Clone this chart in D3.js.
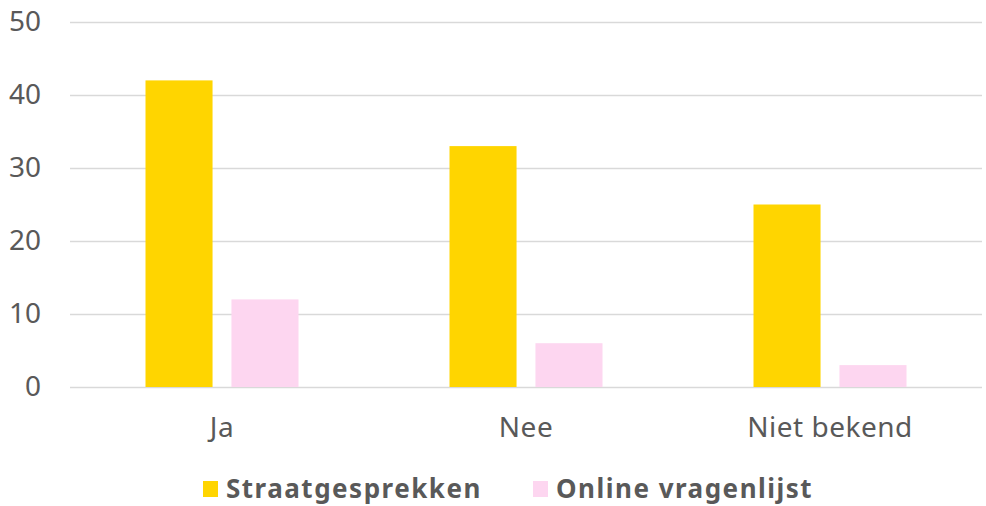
<!DOCTYPE html>
<html>
<head>
<meta charset="utf-8">
<script src="https://d3js.org/d3.v7.min.js"></script>
<style>
  body { margin: 0; background: #fff; }
  text { font-family: 'Noto Sans', sans-serif; fill: #595959; }
  .grid line { stroke: #d9d9d9; stroke-width: 1.5; }
  .grid path { display: none; }
  .y-axis path, .y-axis line, .x-axis path, .x-axis line { display: none; }
  .y-axis text { font-size: 28px; }
  .x-axis text { font-size: 28px; letter-spacing: 0.5px; }
  .legend text { font-size: 26px; font-weight: 700; letter-spacing: 1.5px; }
</style>
</head>
<body>
<script>
// chart data
var categories = ['Ja', 'Nee', 'Niet bekend'];
var seriesNames = ['Straatgesprekken', 'Online vragenlijst'];
var straat = [42, 33, 25];
var online = [12, 6, 3];
var yTicks = [0, 10, 20, 30, 40, 50];
var colors = ['#FFD500', '#FDD6F0'];

var W = 986, H = 506;
var m = { top: 22, right: 4, bottom: 119, left: 70 };
var w = W - m.left - m.right,
    h = H - m.top - m.bottom;

var svg = d3.select('body').append('svg')
  .attr('width', W)
  .attr('height', H);

var g = svg.append('g')
  .attr('transform', `translate(${m.left}, ${m.top})`);

var x = d3.scaleBand()
  .domain(categories)
  .range([0, w])
  .paddingInner(0)
  .paddingOuter(0);

var x1 = d3.scaleBand()
  .domain(seriesNames)
  .range([75.5, x.bandwidth() - 75.5])
  .paddingInner(0.22);

var y = d3.scaleLinear()
  .domain([0, 50])
  .range([h, 0]);

// gridlines
g.append('g')
  .attr('class', 'grid')
  .call(d3.axisLeft(y).tickValues(yTicks).tickSize(-w).tickFormat(''));

// y axis labels
g.append('g')
  .attr('class', 'y-axis')
  .call(d3.axisLeft(y).tickValues(yTicks).tickSize(0).tickPadding(29));

// x axis labels
g.append('g')
  .attr('class', 'x-axis')
  .attr('transform', `translate(0, ${h})`)
  .call(d3.axisBottom(x).tickSize(0).tickPadding(30));

var rows = categories.map((c, i) => ({ cat: c, vals: [straat[i], online[i]] }));

var groups = g.selectAll('.cat')
  .data(rows)
  .enter().append('g')
  .attr('class', 'cat')
  .attr('transform', d => `translate(${x(d.cat)}, 0)`);

groups.selectAll('rect')
  .data(d => d.vals.map((v, j) => ({ name: seriesNames[j], v: v, c: colors[j] })))
  .enter().append('rect')
  .attr('x', d => x1(d.name))
  .attr('width', x1.bandwidth())
  .attr('y', d => y(d.v))
  .attr('height', d => h - y(d.v))
  .attr('fill', d => d.c);

// legend
var legend = svg.append('g').attr('class', 'legend');
var legendX = [203, 533];
seriesNames.forEach((s, i) => {
  var lg = legend.append('g').attr('transform', `translate(${legendX[i]}, 481)`);
  lg.append('rect').attr('width', 15).attr('height', 16).attr('fill', colors[i]);
  lg.append('text').attr('x', 23).attr('y', 17).text(s);
});
</script>
</body>
</html>
